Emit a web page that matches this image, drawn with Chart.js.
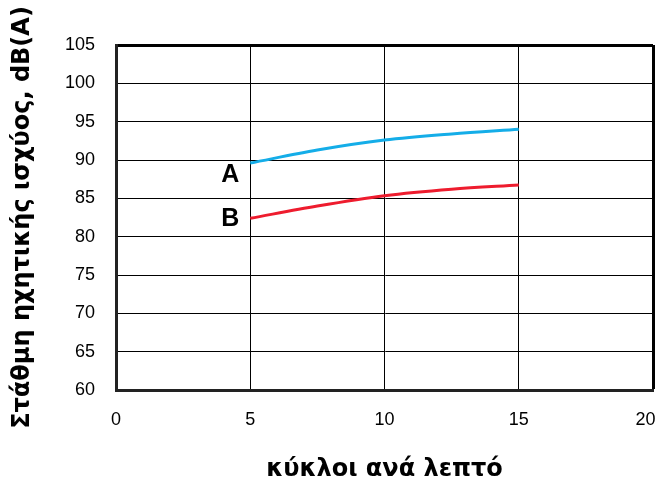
<!DOCTYPE html>
<html>
<head>
<meta charset="utf-8">
<script src="https://cdn.jsdelivr.net/npm/chart.js@4/dist/chart.umd.min.js"></script>
<style>
  html, body { margin: 0; padding: 0; background: #fff; }
  #wrap { width: 660px; height: 484px; }
</style>
</head>
<body>
<div id="wrap"><canvas id="chart" width="660" height="484"></canvas></div>
<script>
// data
const cyclesPerMin = [5, 7.5, 10, 12.5, 15];
const seriesA = [89.6, 91.3, 92.6, 93.4, 94.0];
const seriesB = [82.4, 84.0, 85.35, 86.2, 86.75];
const seriesNames = ['A', 'B'];
const xTitle = 'κύκλοι ανά λεπτό';
const yTitle = 'Στάθμη ηχητικής ισχύος, dB(A)';

// letters A / B next to the start of each curve
const curveLabels = {
    id: 'curveLabels',
    afterDatasetsDraw(chart) {
        const ctx = chart.ctx;
        const xs = chart.scales.x, ys = chart.scales.y;
        ctx.save();
        ctx.font = 'bold 25px "Liberation Sans", Arial, sans-serif';
        ctx.fillStyle = '#000';
        ctx.textAlign = 'right';
        ctx.textBaseline = 'middle';
        const px = xs.getPixelForValue(cyclesPerMin[0]) - 11;
        ctx.fillText(seriesNames[0], px, ys.getPixelForValue(seriesA[0]) + 12);
        ctx.fillText(seriesNames[1], px, ys.getPixelForValue(seriesB[0]) + 1);
        ctx.restore();
    }
};

const thick = (ctx, edge) => ctx.tick && ctx.tick.value === edge ? 3 : 1;

new Chart(document.getElementById('chart'), {
    type: 'line',
    data: {
        datasets: [
            {
                label: seriesNames[0],
                data: cyclesPerMin.map((x, i) => ({ x, y: seriesA[i] })),
                borderColor: '#14ade8',
                borderWidth: 3,
                pointRadius: 0,
                tension: 0.4,
                cubicInterpolationMode: 'monotone'
            },
            {
                label: seriesNames[1],
                data: cyclesPerMin.map((x, i) => ({ x, y: seriesB[i] })),
                borderColor: '#ee1c2e',
                borderWidth: 3,
                pointRadius: 0,
                tension: 0.4,
                cubicInterpolationMode: 'monotone'
            }
        ]
    },
    options: {
        responsive: false,
        animation: false,
        layout: { padding: { top: 45, right: 7, left: 0, bottom: 0 } },
        plugins: { legend: { display: false }, tooltip: { enabled: false } },
        scales: {
            x: {
                type: 'linear',
                min: 0, max: 20,
                afterFit: s => { s.height = 94; s.paddingLeft = 0; s.paddingRight = 0; },
                ticks: {
                    stepSize: 5,
                    color: '#000',
                    padding: 19,
                    // last label sits a bit inside the edge, like the original
                    callback: v => v === 20 ? '20   ' : String(v),
                    font: { family: '"Liberation Sans", Arial, sans-serif', size: 18 }
                },
                grid: {
                    color: '#000',
                    lineWidth: c => thick(c, 20),
                    drawTicks: false
                },
                border: { display: true, color: '#222', width: 3 },
                title: {
                    display: true,
                    text: xTitle,
                    color: '#000',
                    padding: { top: 10, bottom: 0 },
                    font: { family: '"DejaVu Sans", sans-serif', size: 24, weight: 'bold' }
                }
            },
            y: {
                min: 60, max: 105,
                afterFit: s => { s.width = 116; },
                ticks: {
                    stepSize: 5,
                    color: '#000',
                    padding: 21,
                    font: { family: '"Liberation Sans", Arial, sans-serif', size: 18 }
                },
                grid: {
                    color: '#000',
                    lineWidth: c => thick(c, 105),
                    drawTicks: false
                },
                border: { display: true, color: '#222', width: 3 },
                title: {
                    display: true,
                    text: yTitle,
                    color: '#000',
                    padding: { top: 8, bottom: 0 },
                    font: { family: '"DejaVu Sans", sans-serif', size: 24, weight: 'bold' }
                }
            }
        }
    },
    plugins: [curveLabels]
});
</script>
</body>
</html>
